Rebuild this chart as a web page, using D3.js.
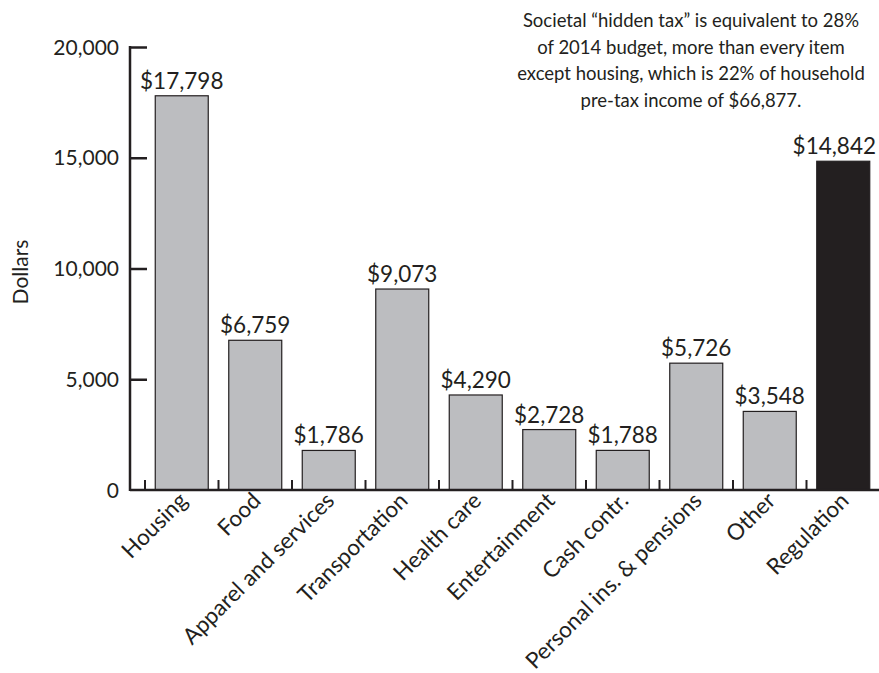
<!DOCTYPE html>
<html>
<head>
<meta charset="utf-8">
<script src="https://cdn.jsdelivr.net/npm/d3@7"></script>
<style>
  html, body { margin: 0; padding: 0; background: #fff; }
  svg { display: block; font-family: Lato, "Open Sans", sans-serif; }
</style>
</head>
<body>
<svg id="chart" width="879" height="673"></svg>
<script>
const categories = ["Housing", "Food", "Apparel and services", "Transportation", "Health care",
  "Entertainment", "Cash contr.", "Personal ins. & pensions", "Other", "Regulation"];
const values = [17798, 6759, 1786, 9073, 4290, 2728, 1788, 5726, 3548, 14842];
const yTicks = [0, 5000, 10000, 15000, 20000];
const yTickLabels = ["0", "5,000", "10,000", "15,000", "20,000"];
const valueLabels = ["$17,798", "$6,759", "$1,786", "$9,073", "$4,290", "$2,728", "$1,788", "$5,726", "$3,548", "$14,842"];
const highlight = ["Regulation"];
const noteLines = [
  "Societal \u201Chidden tax\u201D is equivalent to 28%",
  "of 2014 budget, more than every item",
  "except housing, which is 22% of household",
  "pre-tax income of $66,877."
];
const yTitle = "Dollars";

const svg = d3.select("#chart");
const W = 879;
const axisX = 130, baseY = 490, topY = 47;

const y = d3.scaleLinear().domain([0, 20000]).range([baseY, topY]);
const x = d3.scaleBand().domain(categories).range([145, 880])
  .paddingInner(0.279).paddingOuter(0.1395);
const step = x.step();
const gap = (step - x.bandwidth()) / 2;

// bars
svg.append("g").selectAll("rect").data(categories).join("rect")
  .attr("x", d => x(d))
  .attr("y", (d, i) => y(values[i]))
  .attr("width", x.bandwidth())
  .attr("height", (d, i) => baseY - y(values[i]))
  .attr("fill", d => highlight.includes(d) ? "#231f20" : "#bcbdc0")
  .attr("stroke", "#231f20")
  .attr("stroke-width", 1.2);

// value labels (kept inside the right edge)
svg.append("g").selectAll("text").data(categories).join("text")
  .attr("x", d => x(d) + x.bandwidth() / 2)
  .attr("y", (d, i) => y(values[i]) - 7)
  .attr("text-anchor", "middle")
  .attr("font-size", 22.5)
  .attr("fill", "#231f20")
  .text((d, i) => valueLabels[i])
  .each(function () {
    const w = this.getComputedTextLength();
    const cx = +this.getAttribute("x");
    if (cx + w / 2 > W - 3) this.setAttribute("x", W - 3 - w / 2);
  });

// y axis
const yAxis = d3.axisRight(y).tickValues(yTicks.slice(1)).tickSize(17).tickFormat("");
const gy = svg.append("g").attr("transform", `translate(${axisX},0)`).call(yAxis);
gy.select(".domain").remove();
gy.selectAll(".tick line").attr("stroke", "#231f20").attr("stroke-width", 2.5);
svg.append("line").attr("x1", axisX).attr("x2", axisX).attr("y1", topY - 1).attr("y2", baseY + 1)
  .attr("stroke", "#231f20").attr("stroke-width", 2.5);

svg.append("g").selectAll("text").data(yTicks).join("text")
  .attr("x", 119)
  .attr("y", d => y(d))
  .attr("dy", "0.36em")
  .attr("text-anchor", "end")
  .attr("font-size", 21)
  .attr("fill", "#231f20")
  .text((d, i) => yTickLabels[i]);

// x axis baseline + ticks at band starts
svg.append("line").attr("x1", axisX).attr("x2", W).attr("y1", baseY).attr("y2", baseY)
  .attr("stroke", "#231f20").attr("stroke-width", 2.5);
svg.append("g").selectAll("line").data(categories).join("line")
  .attr("x1", d => x(d) - gap).attr("x2", d => x(d) - gap)
  .attr("y1", baseY).attr("y2", baseY - 10)
  .attr("stroke", "#231f20").attr("stroke-width", 2);

// category labels
svg.append("g").selectAll("text").data(categories).join("text")
  .attr("transform", d => `translate(${x(d) + x.bandwidth() / 2 + 7},${baseY + 12}) rotate(-45)`)
  .attr("text-anchor", "end")
  .attr("font-size", 22.5)
  .attr("fill", "#231f20")
  .text(d => d);

// y title
svg.append("text")
  .attr("transform", "translate(28,272) rotate(-90)")
  .attr("text-anchor", "middle")
  .attr("font-size", 21)
  .attr("fill", "#231f20")
  .text(yTitle);

// note
svg.append("g").selectAll("text").data(noteLines).join("text")
  .attr("x", 691)
  .attr("y", (d, i) => 27 + i * 26.7)
  .attr("text-anchor", "middle")
  .attr("font-size", 18.5)
  .attr("fill", "#231f20")
  .text(d => d);
</script>
</body>
</html>
